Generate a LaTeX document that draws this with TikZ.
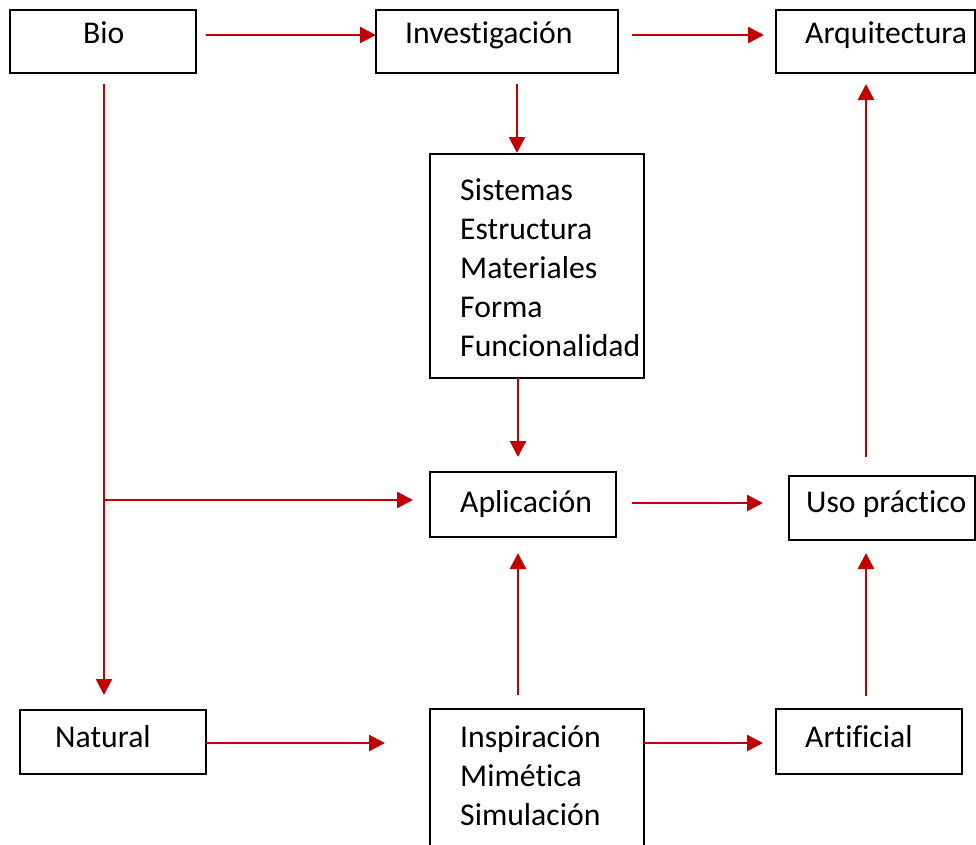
\documentclass[tikz,border=0pt]{standalone}
\usepackage{fontspec}
\setmainfont{Carlito}[Ligatures=NoCommon]
\usetikzlibrary{arrows.meta}
\definecolor{arrred}{HTML}{C00000}
\begin{document}
\begin{tikzpicture}[x=1pt,y=-1pt,
  box/.style={draw=black,line width=2pt,anchor=north west,inner sep=0pt,outer sep=0pt},
  lbl/.style={anchor=base west,inner sep=0pt,font=\fontsize{31.7}{38.7}\selectfont},
  arr/.style={draw=arrred,line width=2.5pt,-{Triangle[length=16pt,width=16pt]}}]
\useasboundingbox (0,0) rectangle (976,844);
\clip (0,0) rectangle (976,844);
% boxes
\node[box,minimum width=186pt,minimum height=63pt] (bio) at (10,10) {};
\node[box,minimum width=242pt,minimum height=63pt] (inv) at (376,10) {};
\node[box,minimum width=199pt,minimum height=63pt] (arq) at (776,10) {};
\node[box,minimum width=214pt,minimum height=224pt] (sis) at (430,154) {};
\node[box,minimum width=186pt,minimum height=65pt] (apl) at (430,472) {};
\node[box,minimum width=186pt,minimum height=64pt] (uso) at (789,476) {};
\node[box,minimum width=186pt,minimum height=64pt] (nat) at (20,710) {};
\node[box,minimum width=214pt,minimum height=160pt] (insp) at (430,709) {};
\node[box,minimum width=186pt,minimum height=65pt] (art) at (776,709) {};
% texts
\node[lbl] (tbio) at (83,43) {Bio};
\node[lbl] (tinv) at (405,43) {Investigación};
\node[lbl] (tarq) at (805,43) {Arquitectura};
\node[lbl] (ts1) at (460,200) {Sistemas};
\node[lbl] (ts2) at (460,239) {Estructura};
\node[lbl] (ts3) at (460,278) {Materiales};
\node[lbl] (ts4) at (460,317) {Forma};
\node[lbl] (ts5) at (460,356) {Funcionalidad};
\node[lbl] (tapl) at (460,512) {Aplicación};
\node[lbl] (tuso) at (806,512) {Uso práctico};
\node[lbl] (tnat) at (55,747) {Natural};
\node[lbl] (ti1) at (460,747) {Inspiración};
\node[lbl] (ti2) at (460,786) {Mimética};
\node[lbl] (ti3) at (460,825) {Simulación};
\node[lbl] (tart) at (805,747) {Artificial};
% helper coordinates
\coordinate (r35) at (0,35);
\coordinate (r503) at (0,503);
\coordinate (r743) at (0,743);
\coordinate (c104) at (104,0);
\coordinate (c517) at (517,0);
\coordinate (c518) at (518,0);
\coordinate (c866) at (866,0);
\coordinate (bj) at (104,500);
% connectors
\draw[arr,shorten <=10pt] (bio.east |- r35) -- (inv.west |- r35);
\draw[arr,shorten <=14pt,shorten >=12pt] (inv.east |- r35) -- (arq.west |- r35);
\draw[arr,shorten <=11pt,shorten >=1pt] (c517 |- inv.south) -- (c517 |- sis.north);
\draw[arr,shorten >=15pt] (c518 |- sis.south) -- (c518 |- apl.north);
\draw[arr,shorten <=16pt,shorten >=26pt] (apl.east |- r503) -- (uso.west |- r503);
\draw[arr,shorten <=19pt,shorten >=11pt] (c866 |- uso.north) -- (c866 |- arq.south);
\draw[arr,shorten <=11pt,shorten >=15pt] (c104 |- bio.south) -- (c104 |- nat.north);
\draw[arr,shorten >=17pt] (bj) -- (apl.west |- bj);
\draw[arr,shorten >=45pt] (nat.east |- r743) -- (insp.west |- r743);
\draw[arr,shorten <=14pt,shorten >=16pt] (c518 |- insp.north) -- (c518 |- apl.south);
\draw[arr,shorten >=13pt] (insp.east |- r743) -- (art.west |- r743);
\draw[arr,shorten <=13pt,shorten >=13pt] (c866 |- art.north) -- (c866 |- uso.south);
\end{tikzpicture}
\end{document}
